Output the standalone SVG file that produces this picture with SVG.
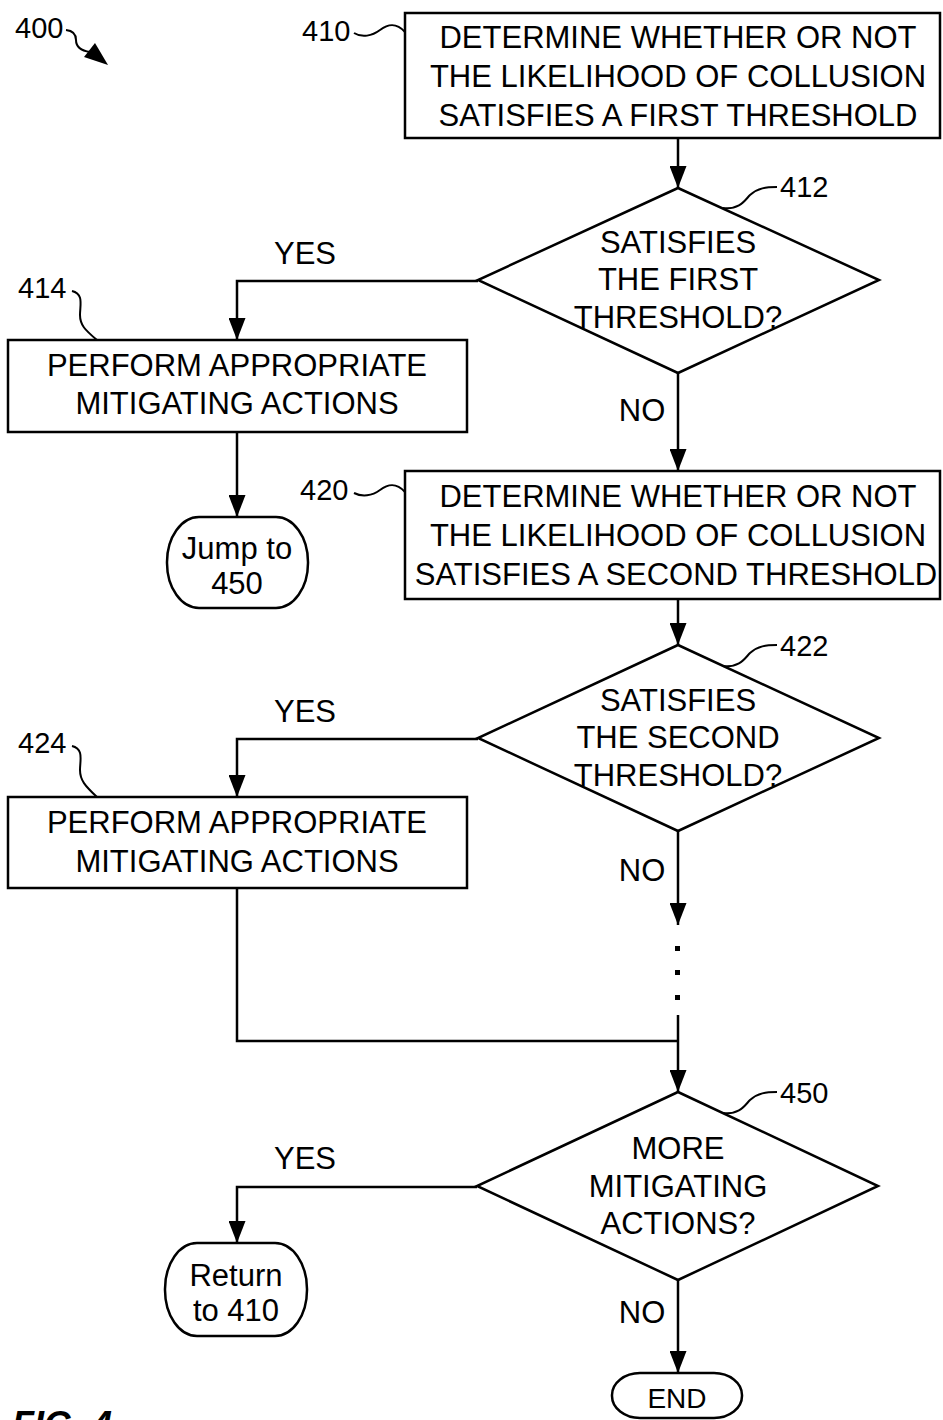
<svg xmlns="http://www.w3.org/2000/svg" width="943" height="1420" viewBox="0 0 943 1420">
<defs>
<style>
.b{fill:none;stroke:#000;stroke-width:2.5}
.t{font-family:"Liberation Sans",Arial,sans-serif;font-size:31px;fill:#000;text-anchor:middle}
.r{font-family:"Liberation Sans",Arial,sans-serif;font-size:29px;fill:#000}
.l{fill:none;stroke:#000;stroke-width:2.5}
.s{fill:none;stroke:#000;stroke-width:2}
</style>
<marker id="ah" markerUnits="userSpaceOnUse" markerWidth="22" markerHeight="17" refX="22" refY="8.5" orient="auto">
<path d="M0,0 L22,8.5 L0,17 z" fill="#000"/>
</marker>
</defs>
<rect width="943" height="1420" fill="#fff"/>

<g id="label-400">
<text class="r" x="15" y="38">400</text>
<path class="s" d="M66,30 Q76,31 76,40 Q76,50 90,52"/>
<polygon points="108,65 95,43 84,57" fill="#000"/>
</g>

<g id="node-410">
<rect class="b" x="405" y="13" width="535" height="125"/>
<text class="t" x="678" y="48">DETERMINE WHETHER OR NOT</text>
<text class="t" x="678" y="87">THE LIKELIHOOD OF COLLUSION</text>
<text class="t" x="678" y="126">SATISFIES A FIRST THRESHOLD</text>
<text class="r" x="302" y="41">410</text>
<path class="s" d="M354,33 C362,38 372,36 380,30 C388,24 396,22 405,32"/>
</g>

<g id="node-412">
<polygon class="b" points="678,188 879,280 678,373 478,280"/>
<text class="t" x="678" y="253">SATISFIES</text>
<text class="t" x="678" y="290">THE FIRST</text>
<text class="t" x="678" y="328">THRESHOLD?</text>
<text class="r" x="780" y="197">412</text>
<path class="s" d="M723,208 C740,210 745,200 750,195 C758,188 766,187 777,187"/>
</g>

<g id="node-414">
<rect class="b" x="8" y="340" width="459" height="92"/>
<text class="t" x="237" y="376">PERFORM APPROPRIATE</text>
<text class="t" x="237" y="414">MITIGATING ACTIONS</text>
<text class="r" x="18" y="298">414</text>
<path class="s" d="M72,291 C84,294 80,305 80,315 C80,325 85,330 97,340"/>
</g>

<g id="node-jump">
<rect class="b" x="167" y="517" width="141" height="91" rx="32" ry="45"/>
<text class="t" x="237" y="559">Jump to</text>
<text class="t" x="237" y="594">450</text>
</g>

<g id="node-420">
<rect class="b" x="405" y="471" width="535" height="128"/>
<text class="t" x="678" y="507">DETERMINE WHETHER OR NOT</text>
<text class="t" x="678" y="546">THE LIKELIHOOD OF COLLUSION</text>
<text class="t" x="676" y="585">SATISFIES A SECOND THRESHOLD</text>
<text class="r" x="300" y="500">420</text>
<path class="s" d="M354,493 C362,497 372,496 380,490 C388,484 396,482 405,492"/>
</g>

<g id="node-422">
<polygon class="b" points="678,645 879,738 678,831 478,738"/>
<text class="t" x="678" y="711">SATISFIES</text>
<text class="t" x="678" y="748">THE SECOND</text>
<text class="t" x="678" y="786">THRESHOLD?</text>
<text class="r" x="780" y="656">422</text>
<path class="s" d="M723,666 C740,668 745,658 750,653 C758,646 766,645 777,645"/>
</g>

<g id="node-424">
<rect class="b" x="8" y="797" width="459" height="91"/>
<text class="t" x="237" y="833">PERFORM APPROPRIATE</text>
<text class="t" x="237" y="872">MITIGATING ACTIONS</text>
<text class="r" x="18" y="753">424</text>
<path class="s" d="M72,746 C84,749 80,760 80,770 C80,780 85,786 97,797"/>
</g>

<g id="node-450">
<polygon class="b" points="678,1092 878,1186 678,1280 477,1186"/>
<text class="t" x="678" y="1159">MORE</text>
<text class="t" x="678" y="1197">MITIGATING</text>
<text class="t" x="678" y="1234">ACTIONS?</text>
<text class="r" x="780" y="1103">450</text>
<path class="s" d="M723,1113 C740,1115 745,1105 750,1100 C758,1093 766,1092 777,1092"/>
</g>

<g id="node-return">
<rect class="b" x="165" y="1243" width="142" height="93" rx="32" ry="46"/>
<text class="t" x="236" y="1286">Return</text>
<text class="t" x="236" y="1321">to 410</text>
</g>

<g id="node-end">
<rect class="b" x="612" y="1373" width="130" height="45" rx="28" ry="22"/>
<text class="t" x="677" y="1408" style="font-size:28px">END</text>
</g>

<g id="connectors">
<path class="l" d="M678,138 V188" marker-end="url(#ah)"/>
<path class="l" d="M478,281 H237 V340" marker-end="url(#ah)"/>
<path class="l" d="M237,432 V517" marker-end="url(#ah)"/>
<path class="l" d="M678,373 V471" marker-end="url(#ah)"/>
<path class="l" d="M678,599 V645" marker-end="url(#ah)"/>
<path class="l" d="M478,739 H237 V797" marker-end="url(#ah)"/>
<path class="l" d="M678,831 V925" marker-end="url(#ah)"/>
<rect x="675" y="946" width="5" height="5" fill="#000"/>
<rect x="675" y="970" width="5" height="5" fill="#000"/>
<rect x="675" y="995" width="5" height="5" fill="#000"/>
<path class="l" d="M678,1015 V1092" marker-end="url(#ah)"/>
<path class="l" d="M237,888 V1041 H678"/>
<path class="l" d="M477,1187 H237 V1243" marker-end="url(#ah)"/>
<path class="l" d="M678,1280 V1373" marker-end="url(#ah)"/>
<text class="t" x="305" y="264">YES</text>
<text class="t" x="642" y="421">NO</text>
<text class="t" x="305" y="722">YES</text>
<text class="t" x="642" y="881">NO</text>
<text class="t" x="305" y="1169">YES</text>
<text class="t" x="642" y="1323">NO</text>
</g>

<text x="12" y="1437" style="font-family:'Liberation Sans',Arial,sans-serif;font-size:36px;font-weight:bold;font-style:italic">FIG. 4</text>
</svg>
